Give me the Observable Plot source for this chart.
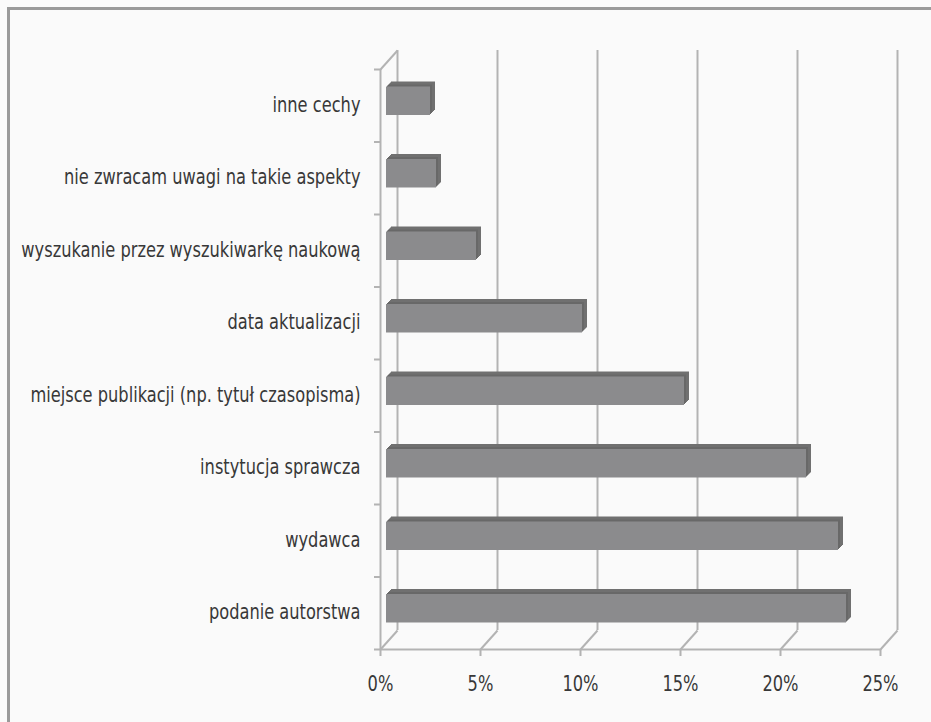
<!DOCTYPE html>
<html>
<head>
<meta charset="utf-8">
<script src="https://cdn.jsdelivr.net/npm/d3@7"></script>
<script src="https://cdn.jsdelivr.net/npm/@observablehq/plot@0.6"></script>
<style>
  html, body { margin: 0; padding: 0; background: #fafafa; }
  #wrap { position: relative; width: 931px; height: 722px; overflow: hidden; background: #fafafa; }
  #wrap svg { display: block; }
  .bt { position: absolute; left: 7px; top: 7px; width: 924px; height: 3px; background: #9a9a9a; }
  .bl { position: absolute; left: 7px; top: 7px; width: 3px; height: 715px; background: #9a9a9a; }
</style>
</head>
<body>
<div id="wrap"><div class="bt"></div><div class="bl"></div></div>
<script>
const categories = [
  "inne cechy",
  "nie zwracam uwagi na takie aspekty",
  "wyszukanie przez wyszukiwarkę naukową",
  "data aktualizacji",
  "miejsce publikacji (np. tytuł czasopisma)",
  "instytucja sprawcza",
  "wydawca",
  "podanie autorstwa"
];
const values = [2.2, 2.5, 4.5, 9.8, 14.9, 21.0, 22.6, 23.0];
const xTicks = [0, 5, 10, 15, 20, 25];
const xTickLabels = ["0%", "5%", "10%", "15%", "20%", "25%"];

const rows = categories.map((c, i) => ({cat: c, i, v: values[i]}));
const n = categories.length;

// layout
const W = 931, H = 722, mL = 380, mR = 51, mT = 69, mB = 73;
const pxX = (W - mL - mR) / 25;          // px per % unit
const pxY = (H - mT - mB) / n;           // px per band
const depthPX = 17, depthPY = 19;        // wall depth in px
const dX = depthPX / pxX, dY = depthPY / pxY; // wall depth in data units
const grid = "#b3b3b3";
const font = "'Liberation Sans Narrow', 'DejaVu Sans Condensed', 'Arial Narrow', sans-serif";

const barMarks = [];
for (let k = 5; k >= 1; k--) {
  barMarks.push(Plot.rect(rows, {
    x1: 0, x2: "v", y1: "i", y2: d => d.i + 1,
    insetTop: 17.5, insetBottom: 26.5,
    dx: 6 + k, dy: -k, fill: k > 2 ? "#707070" : "#686868"
  }));
}
barMarks.push(Plot.rect(rows, {
  x1: 0, x2: "v", y1: "i", y2: d => d.i + 1,
  insetTop: 17.5, insetBottom: 26.5,
  dx: 6, fill: "#8b8b8d"
}));

const chart = Plot.plot({
  width: W, height: H,
  marginLeft: mL, marginRight: mR, marginTop: mT, marginBottom: mB,
  style: {background: "transparent", fontFamily: font, overflow: "visible"},
  x: {domain: [0, 25], axis: null},
  y: {domain: [0, n], reverse: true, axis: null},
  marks: [
    // back wall gridlines
    Plot.ruleX(xTicks, {x: d => d + dX, y1: -dY, y2: n - dY, stroke: grid, strokeWidth: 2}),
    // floor diagonals
    Plot.link(xTicks, {x1: d => d, y1: n, x2: d => d + dX, y2: n - dY, stroke: grid, strokeWidth: 2}),
    // top-left diagonal of side wall
    Plot.link([0], {x1: 0, y1: 0, x2: dX, y2: -dY, stroke: grid, strokeWidth: 2}),
    // front left axis line
    Plot.ruleX([0], {x: 0, y1: 0, y2: n, stroke: grid, strokeWidth: 2}),
    // front floor line
    Plot.ruleY([n], {y: n, x1: 0, x2: 25, stroke: grid, strokeWidth: 2}),
    // category ticks
    Plot.ruleY(d3.range(n + 1), {y: d => d, x1: -6 / pxX, x2: 0, stroke: grid, strokeWidth: 2}),
    // x ticks
    Plot.ruleX(xTicks, {x: d => d, y1: n, y2: n + 7 / pxY, stroke: grid, strokeWidth: 2}),
    ...barMarks,
    // category labels
    Plot.text(rows, {x: 0, y: d => d.i + 0.5, text: "cat", textAnchor: "end", dx: -20, dy: -1,
      fontSize: 22, fill: "#383838"}),
    // x tick labels
    Plot.text(xTicks, {x: d => d, y: n, text: (d, i) => xTickLabels[i], dy: 34,
      fontSize: 22, fill: "#383838"})
  ]
});
document.getElementById("wrap").prepend(chart);
// narrow the glyphs horizontally to imitate the condensed typeface of the original
d3.select(chart).selectAll("text").each(function() {
  const w = this.getComputedTextLength();
  if (w > 0) {
    this.setAttribute("textLength", (w * 0.82).toFixed(1));
    this.setAttribute("lengthAdjust", "spacingAndGlyphs");
  }
});
</script>
</body>
</html>
